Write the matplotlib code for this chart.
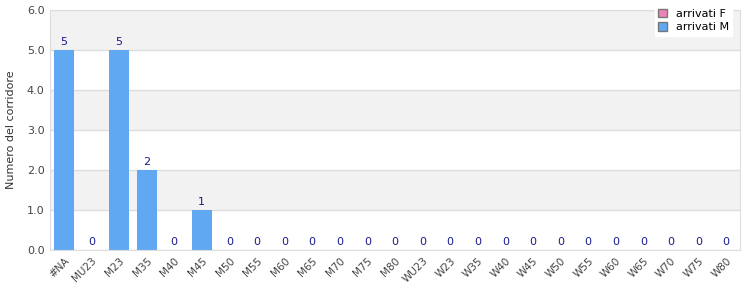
import matplotlib.pyplot as plt
import numpy as np
from matplotlib.patches import Patch

categories = ["#NA", "MU23", "M23", "M35", "M40", "M45", "M50", "M55", "M60",
              "M65", "M70", "M75", "M80", "WU23", "W23", "W35", "W40", "W45",
              "W50", "W55", "W60", "W65", "W70", "W75", "W80"]
arrivati_m = [5, 0, 5, 2, 0, 1, 0, 0, 0, 0, 0, 0, 0, 0, 0, 0, 0, 0, 0, 0, 0, 0, 0, 0, 0]
arrivati_f = [0] * len(categories)

color_m = "#60a8f2"
color_f = "#ee82b8"

fig = plt.figure(figsize=(7.5, 3), dpi=100)
ax = fig.add_axes([50 / 750, 50 / 300, 690 / 750, 240 / 300])

x = np.arange(len(categories))
ax.set_xlim(-0.5, len(categories) - 0.5)
ax.set_ylim(0, 6)

# alternating bands
for lo in range(0, 6):
    if lo % 2 == 1:
        ax.axhspan(lo, lo + 1, color="#f2f2f2", zorder=0, lw=0)
ax.yaxis.grid(True, color="#dddddd", lw=1, zorder=1)
ax.set_axisbelow(True)

ax.bar(x, arrivati_f, width=0.72, color=color_f, zorder=2)
ax.bar(x, arrivati_m, width=0.72, bottom=arrivati_f, color=color_m, zorder=2)

for xi, m, f in zip(x, arrivati_m, arrivati_f):
    ax.text(xi, m + f + 0.08, f"{m + f}", ha="center", va="bottom",
            fontsize=8, color="#1a1a8c")

ax.set_xticks(x)
ax.set_xticklabels(categories, rotation=45, ha="right", rotation_mode="anchor",
                   fontsize=7.5, color="#444444")
ax.set_yticks(range(0, 7))
ax.set_yticklabels([f"{v:.1f}" for v in range(0, 7)], fontsize=8, color="#444444")
ax.tick_params(length=0, pad=4)
ax.set_ylabel("Numero del corridore", fontsize=8, color="#333333", labelpad=8)

for side in ["top", "right", "bottom", "left"]:
    ax.spines[side].set_color("#dddddd")

handles = [Patch(facecolor=color_f, edgecolor="#777777", label="arrivati F"),
           Patch(facecolor=color_m, edgecolor="#777777", label="arrivati M")]
leg = fig.legend(handles=handles, loc="upper right", bbox_to_anchor=(738 / 750, 1.0),
                 fontsize=8, frameon=True, fancybox=False, edgecolor="white",
                 handlelength=0.8, handleheight=0.8, borderpad=0.3,
                 labelspacing=0.3, handletextpad=0.8)
leg.get_frame().set_facecolor("white")
leg.get_frame().set_alpha(1)

fig.savefig("out.png", dpi=100)
